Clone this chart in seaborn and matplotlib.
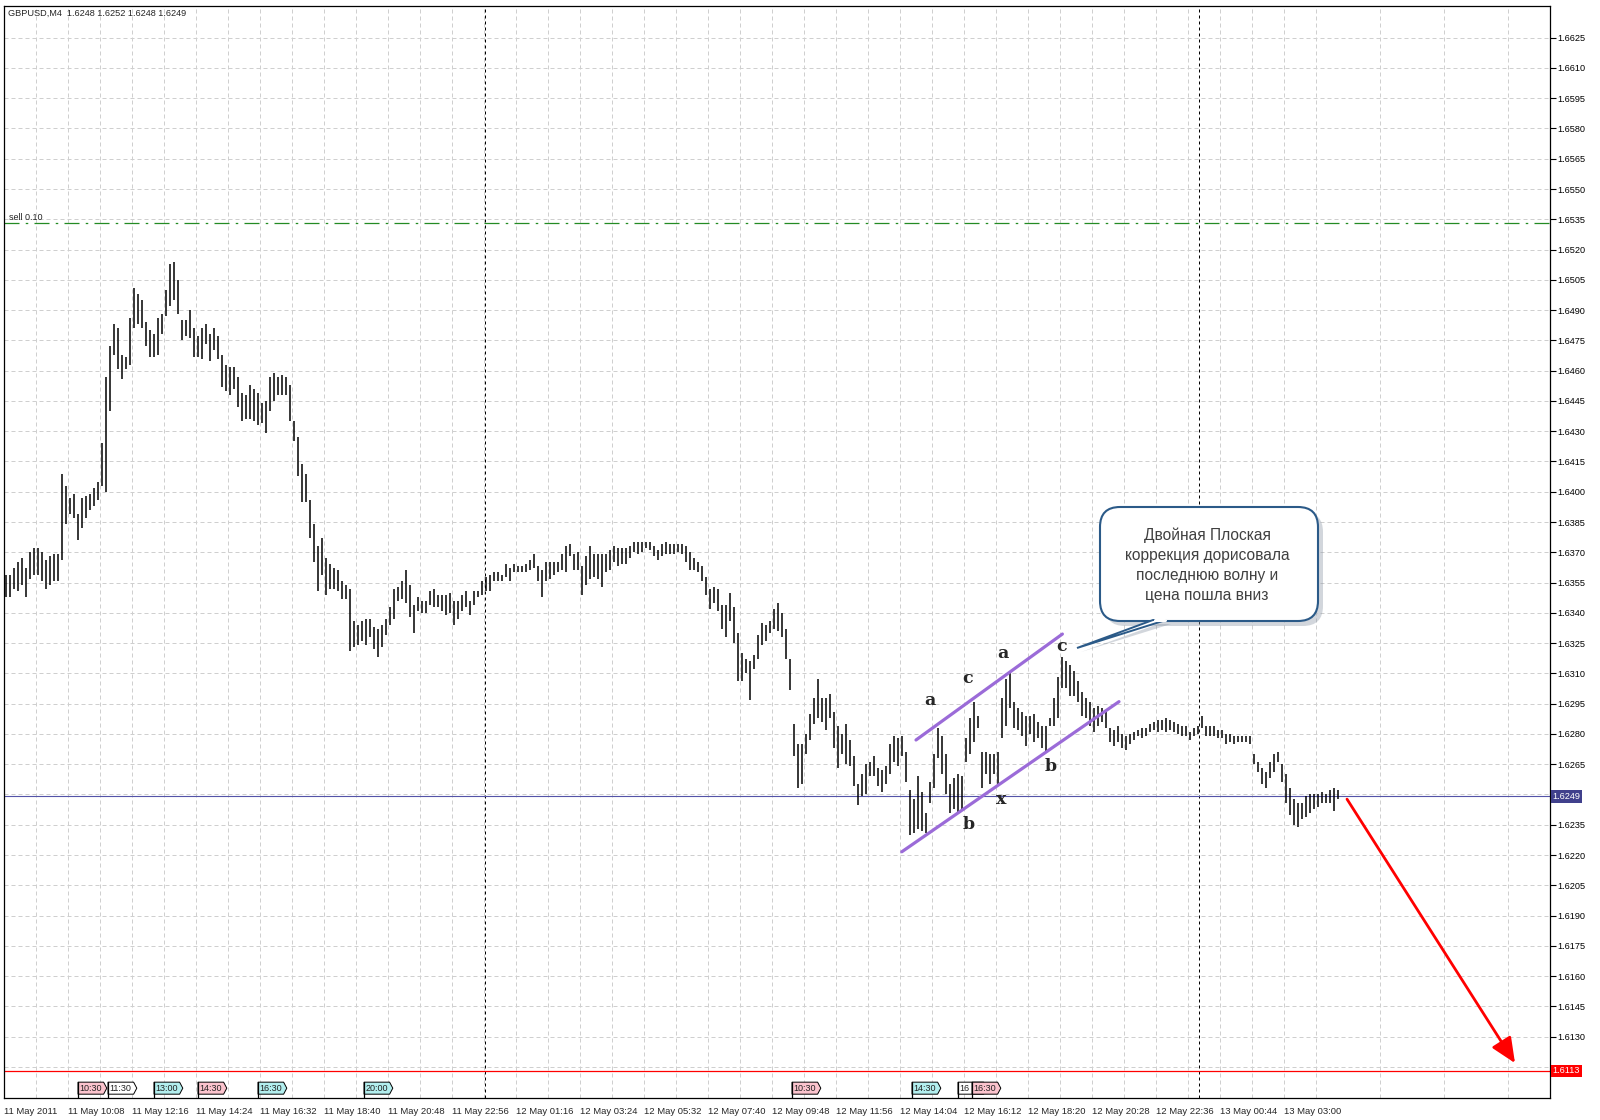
import numpy as np
import pandas as pd
import matplotlib
matplotlib.use("Agg")
import matplotlib.pyplot as plt
import seaborn as sns
from matplotlib.patches import Polygon, FancyBboxPatch
from matplotlib.transforms import blended_transform_factory

## bar highs / lows, pips above 1.6000 (one bar = 2 M4 candles)
bar_high = [
    359, 359, 362, 365, 367, 362, 370, 372, 372, 370,
    366, 368, 369, 369, 409, 403, 397, 399, 389, 397,
    398, 399, 402, 405, 424, 457, 472, 483, 481, 468,
    467, 486, 501, 498, 495, 484, 480, 478, 486, 488,
    500, 513, 514, 505, 485, 485, 490, 481, 477, 481,
    483, 478, 481, 477, 468, 463, 462, 462, 457, 449,
    448, 453, 451, 449, 444, 445, 457, 459, 457, 458,
    457, 453, 435, 427, 414, 409, 396, 384, 373, 377,
    367, 364, 362, 361, 356, 354, 352, 336, 334, 336,
    337, 337, 333, 332, 334, 337, 343, 352, 353, 356,
    361, 354, 344, 348, 346, 346, 351, 352, 349, 349,
    349, 350, 346, 346, 349, 351, 346, 351, 351, 356,
    358, 359, 360, 360, 359, 364, 362, 364, 363, 363,
    364, 366, 369, 363, 361, 365, 365, 365, 365, 369,
    373, 374, 369, 370, 363, 368, 373, 369, 369, 369,
    369, 371, 373, 372, 372, 372, 373, 375, 375, 375,
    375, 375, 373, 371, 374, 375, 374, 374, 374, 374,
    373, 370, 367, 365, 363, 358, 352, 353, 352, 344,
    344, 350, 343, 330, 320, 317, 316, 319, 329, 335,
    334, 336, 342, 345, 340, 332, 317, 285, 275, 275,
    280, 290, 298, 307, 298, 298, 300, 291, 284, 280,
    285, 277, 269, 255, 260, 265, 266, 269, 263, 262,
    264, 275, 279, 278, 279, 271, 252, 248, 259, 251,
    241, 256, 270, 283, 279, 270, 255, 258, 260, 259,
    278, 288, 296, 289, 271, 271, 270, 270, 271, 298,
    307, 310, 296, 293, 291, 289, 289, 290, 286, 284,
    284, 288, 298, 308, 318, 316, 314, 311, 306, 301,
    298, 296, 293, 294, 293, 291, 283, 282, 284, 280,
    279, 280, 281, 282, 283, 283, 285, 286, 287, 287,
    288, 287, 286, 285, 284, 284, 281, 283, 284, 289,
    284, 284, 284, 282, 282, 280, 280, 279, 279, 279,
    279, 279, 270, 266, 263, 261, 266, 270, 271, 265,
    260, 253, 248, 246, 246, 249, 250, 250, 250, 251,
    250, 252, 253, 252,
]
bar_low = [
    348, 348, 352, 351, 354, 348, 357, 359, 359, 356,
    352, 354, 356, 356, 366, 384, 389, 387, 376, 382,
    387, 391, 393, 396, 403, 400, 440, 468, 461, 456,
    461, 463, 481, 483, 481, 472, 467, 467, 468, 478,
    487, 492, 495, 488, 475, 477, 476, 467, 467, 466,
    473, 465, 470, 466, 452, 450, 448, 451, 442, 435,
    436, 436, 435, 433, 434, 429, 440, 445, 448, 448,
    448, 435, 425, 408, 395, 395, 377, 365, 351, 359,
    349, 352, 352, 351, 347, 347, 321, 323, 324, 326,
    324, 328, 322, 318, 323, 329, 334, 337, 346, 347,
    345, 338, 330, 341, 340, 340, 344, 343, 343, 341,
    339, 340, 334, 337, 341, 343, 339, 344, 348, 349,
    351, 351, 356, 356, 356, 358, 356, 360, 360, 360,
    360, 361, 362, 356, 348, 356, 357, 359, 360, 361,
    360, 368, 361, 361, 349, 354, 357, 358, 357, 353,
    360, 361, 365, 363, 364, 364, 367, 370, 369, 370,
    372, 371, 368, 366, 368, 369, 369, 369, 370, 369,
    365, 361, 361, 360, 356, 349, 342, 345, 341, 332,
    328, 336, 325, 306, 306, 310, 297, 312, 317, 324,
    326, 330, 332, 331, 328, 317, 302, 269, 253, 255,
    270, 277, 285, 288, 286, 282, 288, 273, 263, 270,
    265, 264, 254, 245, 249, 250, 259, 259, 254, 251,
    255, 260, 266, 264, 269, 256, 230, 231, 233, 232,
    231, 246, 253, 268, 260, 250, 241, 243, 241, 242,
    266, 270, 276, 283, 253, 260, 255, 260, 254, 278,
    284, 293, 283, 282, 279, 274, 280, 276, 278, 273,
    271, 284, 284, 288, 303, 303, 299, 299, 296, 289,
    288, 284, 281, 284, 286, 283, 276, 274, 276, 273,
    272, 275, 277, 279, 278, 279, 281, 282, 281, 282,
    281, 282, 281, 280, 279, 279, 277, 279, 280, 283,
    279, 279, 279, 278, 278, 275, 276, 275, 276, 276,
    276, 275, 265, 261, 255, 253, 258, 261, 266, 256,
    246, 240, 235, 234, 238, 239, 241, 243, 244, 246,
    246, 246, 242, 248,
]

time_labels = [
    "11 May 2011", "11 May 10:08", "11 May 12:16", "11 May 14:24", "11 May 16:32",
    "11 May 18:40", "11 May 20:48", "11 May 22:56", "12 May 01:16", "12 May 03:24",
    "12 May 05:32", "12 May 07:40", "12 May 09:48", "12 May 11:56", "12 May 14:04",
    "12 May 16:12", "12 May 18:20", "12 May 20:28", "12 May 22:36", "13 May 00:44",
    "13 May 03:00",
]

sell_price = 1.6533
bid_price = 1.6249
target_price = 1.6113
day_breaks = [240.5, 597.5]   # M4 candle index of midnight

# drawn objects (M4 candle index, price)
channel_idx = [456, 529.2, 448.9, 557.5]
channel_price = [1.62770, 1.63295, 1.62216, 1.62960]
channel_id = ["top", "top", "bottom", "bottom"]

wave_text = ["a", "c", "a", "c", "b", "x", "b"]
wave_idx = [462.7, 481.7, 499.4, 528.9, 482.2, 498.5, 523.4]
wave_price = [1.62968, 1.63076, 1.63199, 1.63232, 1.62349, 1.62473, 1.62637]

arrow_from = (671.5, 1.62477)
arrow_to = (755.5, 1.61169)

event_text = ["10:30", "11:30", "13:00", "14:30", "16:30", "20:00", "10:30", "14:30", "16", "16:30"]
event_idx = [37, 52, 75, 97, 127, 180, 394, 454, 477, 484]
event_kind = ["red", "none", "blue", "red", "blue", "blue", "red", "blue", "none", "red"]

note = "Двойная Плоская\nкоррекция дорисовала\nпоследнюю волну и\nцена пошла вниз"

sns.set_style("white")
plt.rcParams["font.family"] = ["Liberation Sans", "DejaVu Sans"]

W, H = 1600, 1120
fig = plt.figure(figsize=(W / 100, H / 100), dpi=100)
fig.patch.set_facecolor("white")
L, R, T, B = 4, 1550, 6, 1098
ax = fig.add_axes([L / W, 1 - B / H, (R - L) / W, (B - T) / H])

bars = pd.DataFrame({"high": 1.6 + np.array(bar_high) / 10000,
                     "low": 1.6 + np.array(bar_low) / 10000})
bars["idx"] = 2 * np.arange(len(bars)) + 1

ax.set_xlim(0, 773)
ax.set_ylim(1.60996, 1.66407)

# grid + scales
price_ticks = np.round(1.6625 - 0.0015 * np.arange(35), 4)
hidden = {bid_price + 0.0001, target_price + 0.0002}   # covered by the price boxes
ax.set_yticks(price_ticks)
ax.set_yticklabels(["" if any(abs(v - h) < 1e-6 for h in hidden) else f"{v:.4f}"
                    for v in price_ticks])
ax.set_xticks(32 * np.arange(len(time_labels)))
ax.set_xticklabels(time_labels, ha="left")
ax.set_xticks(16 + 32 * np.arange(24), minor=True)
ax.grid(True, which="both", color="#cfcfcf", lw=0.72, ls=(0, (4, 3)))
ax.set_axisbelow(True)
ax.yaxis.tick_right()
ax.tick_params(axis="y", direction="out", length=4, width=0.8, pad=1.5, labelsize=6.6, colors="black")
ax.tick_params(axis="x", which="major", direction="out", length=4, width=0.8, pad=2.5, labelsize=6.8)
ax.tick_params(axis="x", which="minor", length=0)
for s in ax.spines.values():
    s.set_color("black")
    s.set_linewidth(0.9)

for d in day_breaks:
    ax.axvline(d, color="black", lw=0.72, ls=(0, (3, 3)), zorder=1)

ax.axhline(sell_price, color="#238b23", lw=0.9, ls=(0, (12, 5, 2, 5)), zorder=2)
ax.text(2.5, sell_price + 0.00008, "sell 0.10", fontsize=6.5, va="bottom", ha="left")
ax.axhline(bid_price, color="#5454a8", lw=0.8, zorder=2)
ax.axhline(target_price, color="#ff0000", lw=0.9, zorder=2)

# price bars
ax.vlines(bars["idx"], bars["low"], bars["high"], color="black", lw=1.1, zorder=3)

# channel
chan = pd.DataFrame({"idx": channel_idx, "price": channel_price, "line": channel_id})
sns.lineplot(data=chan, x="idx", y="price", hue="line", palette=["#9b6bd8", "#9b6bd8"],
             lw=2.3, legend=False, estimator=None, sort=False, ax=ax, zorder=4)
ax.set_xlabel("")
ax.set_ylabel("")

for t, xi, yi in zip(wave_text, wave_idx, wave_price):
    ax.text(xi, yi, t, fontsize=12.5, fontweight="bold", family="DejaVu Serif",
            ha="center", va="center", zorder=5)

ax.annotate("", xy=arrow_to, xytext=arrow_from,
            arrowprops=dict(arrowstyle="-|>,head_length=0.9,head_width=0.4",
                            color="#ff0000", lw=2.0, mutation_scale=17, shrinkA=0, shrinkB=0),
            zorder=5)

# price labels on the scale
yt = blended_transform_factory(ax.transAxes, ax.transData)
for p, c in [(bid_price, "#40408c"), (target_price, "#ff0000")]:
    ax.text(1.0016, p, f"{p:.4f}", transform=yt, fontsize=6.6, color="white",
            ha="left", va="center", zorder=10, clip_on=False,
            bbox=dict(boxstyle="square,pad=0.2", fc=c, ec="none"))

# news events at the bottom
et = blended_transform_factory(ax.transData, ax.transAxes)
fills = {"red": "#fbc3cd", "blue": "#b2eeee", "none": "white"}
y0, y1 = 0.0035, 0.0145
for k, (t, xi, kind) in enumerate(zip(event_text, event_idx, event_kind)):
    shape = [(xi, y0), (xi + 12.8, y0), (xi + 14.4, (y0 + y1) / 2), (xi + 12.8, y1), (xi, y1)]
    ax.add_patch(Polygon(shape, closed=True, fc=fills[kind], ec="black", lw=0.7,
                         transform=et, zorder=6 + k, clip_on=False))
    ax.plot([xi, xi], [0, y1], color="black", lw=0.9, transform=et, zorder=6 + k)
    ax.text(xi + 0.8, (y0 + y1) / 2, t, fontsize=6.5, ha="left", va="center",
            transform=et, zorder=6.5 + k, color="#222222")

fig.text(8 / W, 1 - 13 / H, "GBPUSD,M4  1.6248 1.6252 1.6248 1.6249", fontsize=6.6, va="center")

# callout
ov = fig.add_axes([0, 0, 1, 1], zorder=5)
ov.set_xlim(0, W)
ov.set_ylim(H, 0)
ov.axis("off")
ov.patch.set_alpha(0)
ov.add_patch(FancyBboxPatch((1125, 532), 178, 74, boxstyle="round,pad=20", fc="#8f9aa8",
                            ec="none", alpha=0.4))
ov.add_patch(Polygon([(1158, 624), (1171, 624), (1081, 652)], closed=True, fc="#8f9aa8",
                     ec="none", alpha=0.4))
ov.add_patch(FancyBboxPatch((1120, 527), 178, 74, boxstyle="round,pad=20", fc="white",
                            ec="#2b5a88", lw=1.5))
ov.add_patch(Polygon([(1153, 620), (1166, 620), (1077, 648)], closed=True, fc="white",
                     ec="#2b5a88", lw=1.4))
ov.plot([1154.5, 1164.5], [620.2, 620.2], color="white", lw=2.2)
ov.text(1207, 565, note, fontsize=11.2, color="#404040", ha="center", va="center",
        linespacing=1.42)

fig.savefig("out.png", dpi=100, facecolor="white")
